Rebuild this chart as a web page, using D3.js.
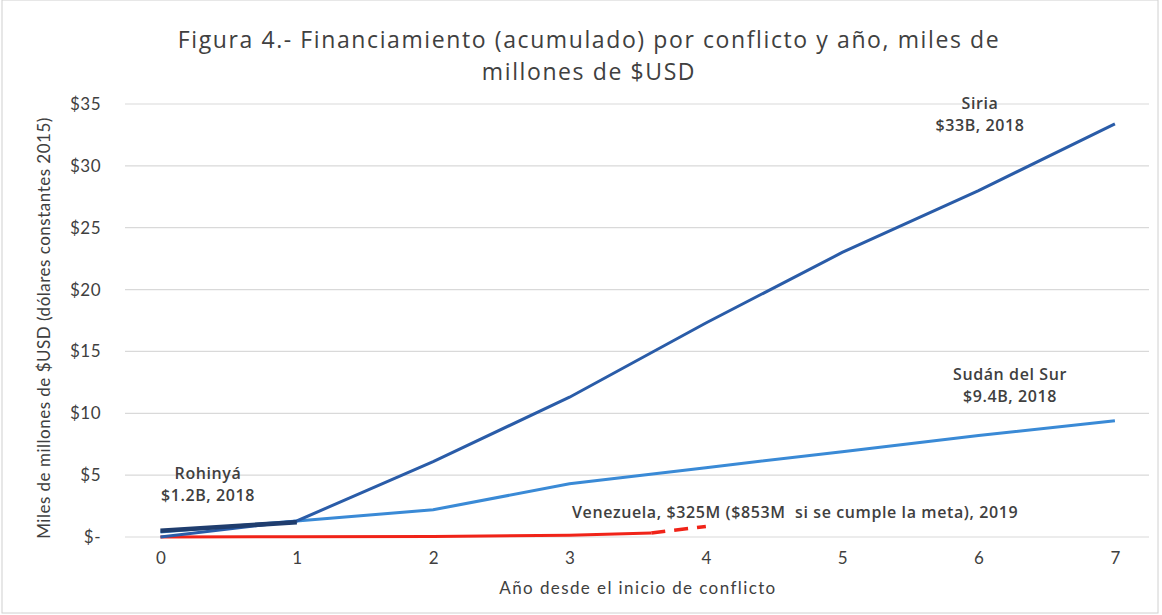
<!DOCTYPE html>
<html>
<head>
<meta charset="utf-8">
<script src="https://cdn.jsdelivr.net/npm/d3@7"></script>
<style>
  body { margin: 0; background: #fff; }
  svg { display: block; }
</style>
</head>
<body>
<div id="chart"></div>
<script>
// data (miles de millones USD)
const years = [0, 1, 2, 3, 4, 5, 6, 7];
const yTicks = [0, 5, 10, 15, 20, 25, 30, 35];
const siria = [0.0, 1.3, 6.1, 11.3, 17.3, 23.0, 28.0, 33.4];
const sudan = [0.4, 1.3, 2.2, 4.3, 5.6, 6.9, 8.2, 9.4];
const rohinya = [0.5, 1.2];
const venezuelaYears = [0, 1, 2, 3, 3.6];
const venezuela = [0.0, 0.02, 0.05, 0.15, 0.33];
const venezuelaMetaYears = [3.6, 4];
const venezuelaMeta = [0.33, 0.85];

const width = 1162, height = 615;
const svg = d3.select('#chart').append('svg')
    .attr('width', width)
    .attr('height', height);

// faint frame like the scanned figure
svg.append('rect')
    .attr('x', 2).attr('y', 0)
    .attr('width', width - 6).attr('height', height - 2)
    .attr('fill', 'none')
    .attr('stroke', '#d0d0d0');

const x = d3.scaleLinear().domain([-0.26, 7.25]).range([125, 1149]);
const y = d3.scaleLinear().domain([0, 35]).range([537, 104]);

// gridlines
svg.append('g')
    .selectAll('line')
    .data(yTicks)
    .join('line')
    .attr('x1', x.range()[0]).attr('x2', x.range()[1])
    .attr('y1', d => y(d)).attr('y2', d => y(d))
    .attr('stroke', '#d9d9d9')
    .attr('stroke-width', 1.2);

// y axis labels
const yAxis = d3.axisLeft(y)
    .tickValues(yTicks)
    .tickSize(0)
    .tickPadding(0)
    .tickFormat(d => d === 0 ? '$-' : '$' + d);
svg.append('g')
    .attr('transform', 'translate(101,0)')
    .call(yAxis)
    .call(g => g.select('.domain').remove())
    .selectAll('text')
    .attr('font-family', 'Lato, sans-serif')
    .attr('font-size', 17)
    .attr('letter-spacing', 0.5)
    .attr('fill', '#404040');

// x axis labels
const xAxis = d3.axisBottom(x)
    .tickValues(years)
    .tickSize(0)
    .tickPadding(0)
    .tickFormat(d3.format('d'));
svg.append('g')
    .attr('transform', 'translate(0,552)')
    .call(xAxis)
    .call(g => g.select('.domain').remove())
    .selectAll('text')
    .attr('font-family', 'Lato, sans-serif')
    .attr('font-size', 17)
    .attr('fill', '#404040');

// axis titles
svg.append('text')
    .attr('transform', 'translate(50,328) rotate(-90)')
    .attr('text-anchor', 'middle')
    .attr('font-family', 'Lato, sans-serif')
    .attr('font-size', 17)
    .attr('letter-spacing', 0.5)
    .attr('fill', '#404040')
    .text('Miles de millones de $USD (dólares constantes 2015)');

svg.append('text')
    .attr('x', 638).attr('y', 594)
    .attr('text-anchor', 'middle')
    .attr('font-family', 'Lato, sans-serif')
    .attr('font-size', 17)
    .attr('letter-spacing', 1.4)
    .attr('fill', '#404040')
    .text('Año desde el inicio de conflicto');

// title
const title = svg.append('text')
    .attr('text-anchor', 'middle')
    .attr('font-family', '"Open Sans", sans-serif')
    .attr('font-size', 23)
    .attr('letter-spacing', 1.6)
    .attr('fill', '#404040');
title.append('tspan').attr('x', 589).attr('y', 48)
    .text('Figura 4.- Financiamiento (acumulado) por conflicto y año, miles de');
title.append('tspan').attr('x', 589).attr('y', 80)
    .text('millones de $USD');

// lines
const line = d3.line().x(d => x(d[0])).y(d => y(d[1]));

svg.append('path')
    .datum(d3.zip(venezuelaYears, venezuela))
    .attr('d', line)
    .attr('fill', 'none')
    .attr('stroke', '#f02318')
    .attr('stroke-width', 3);

svg.append('path')
    .datum(d3.zip(venezuelaMetaYears, venezuelaMeta))
    .attr('d', line)
    .attr('fill', 'none')
    .attr('stroke', '#f02318')
    .attr('stroke-width', 3.5)
    .attr('stroke-dasharray', '14,9');

svg.append('path')
    .datum(d3.zip(years, sudan))
    .attr('d', line)
    .attr('fill', 'none')
    .attr('stroke', '#3a8ad6')
    .attr('stroke-width', 3);

svg.append('path')
    .datum(d3.zip(years, siria))
    .attr('d', line)
    .attr('fill', 'none')
    .attr('stroke', '#2a5ca8')
    .attr('stroke-width', 3);

svg.append('path')
    .datum(d3.zip(years.slice(0, 2), rohinya))
    .attr('d', line)
    .attr('fill', 'none')
    .attr('stroke', '#1f3d6e')
    .attr('stroke-width', 4.5);

// annotations
const notes = [
  {lines: ['Siria', '$33B, 2018'], x: 980, y: 109, anchor: 'middle'},
  {lines: ['Sudán del Sur', '$9.4B, 2018'], x: 1010, y: 380, anchor: 'middle'},
  {lines: ['Rohinyá', '$1.2B, 2018'], x: 208, y: 479, anchor: 'middle'},
  {lines: ['Venezuela, $325M ($853M  si se cumple la meta), 2019'], x: 572, y: 518, anchor: 'start'}
];
notes.forEach(n => {
  const t = svg.append('text')
      .attr('text-anchor', n.anchor)
      .attr('font-family', '"Open Sans", sans-serif')
      .attr('font-size', 16)
      .attr('letter-spacing', 0.6)
      .attr('font-weight', 600)
      .attr('fill', '#404040')
      .style('white-space', 'pre');
  n.lines.forEach((l, i) => {
    t.append('tspan').attr('x', n.x).attr('y', n.y + i * 22).text(l);
  });
});
</script>
</body>
</html>
